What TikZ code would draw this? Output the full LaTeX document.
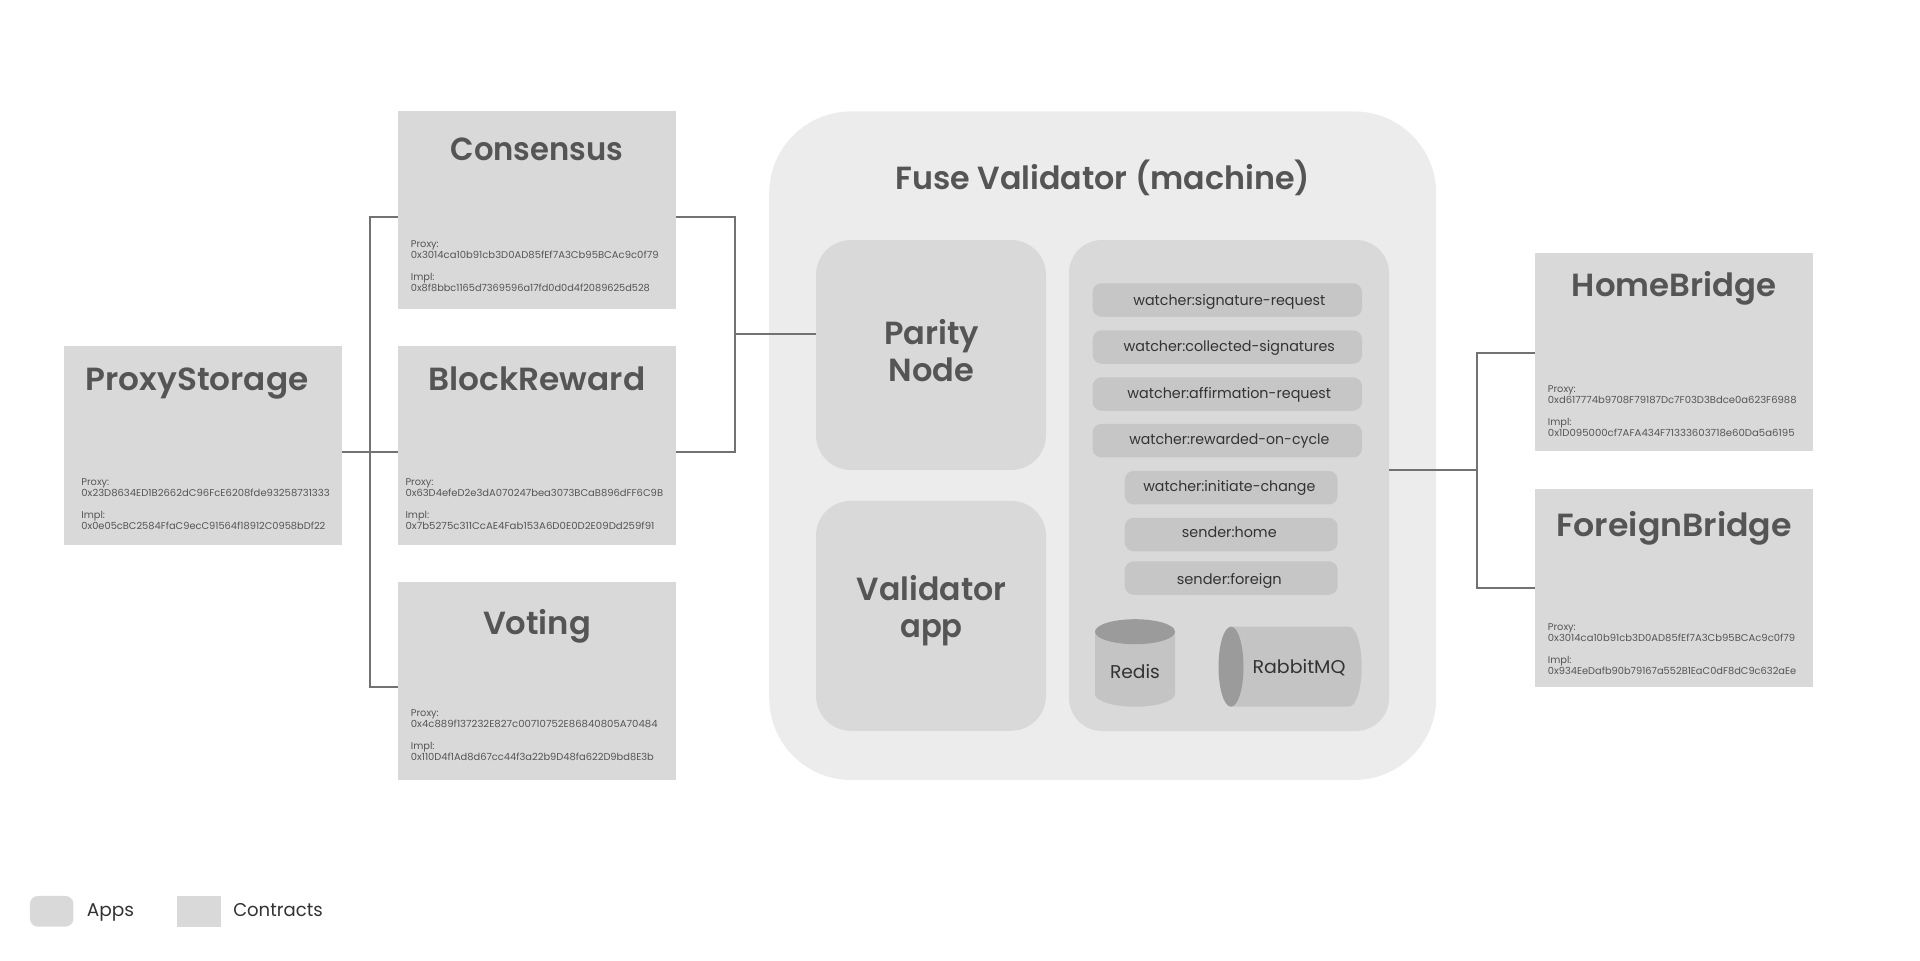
\documentclass[tikz,border=0pt]{standalone}
\usepackage{graphicx}
\usepackage{fontspec}
\setmainfont{Poppins}[BoldFont={Poppins SemiBold}]
\newcommand{\fitw}[2]{\resizebox{#1pt}{\height}{#2}}
\newcommand{\addrblock}[4]{Proxy:\\\fitw{#1}{#2}\\[11pt]Impl:\\\fitw{#3}{#4}}
\definecolor{machinefill}{HTML}{ECECEC}
\definecolor{boxfill}{HTML}{D9D9D9}
\definecolor{appfill}{HTML}{D9D9D9}
\definecolor{pillfill}{HTML}{C6C6C6}
\definecolor{cylbody}{HTML}{C4C4C4}
\definecolor{cylcap}{HTML}{9B9B9B}
\definecolor{titlegrey}{HTML}{555555}
\definecolor{textgrey}{HTML}{333333}
\definecolor{linegrey}{HTML}{727272}
\tikzset{
  x=1pt,y=-1pt,
  base/.style={inner sep=0pt,outer sep=0pt,draw=none},
  contract/.style={base,fill=boxfill,minimum width=278pt,minimum height=198.5pt},
  app/.style={base,fill=appfill,rounded corners=35pt},
  pillbox/.style={base,fill=pillfill,rounded corners=9pt,minimum height=33.5pt},
  widepill/.style={pillbox,minimum width=269.5pt},
  narrowpill/.style={pillbox,minimum width=213pt},
  ttl/.style={inner sep=0pt,anchor=base,text=titlegrey,font=\fontsize{32}{36}\selectfont\bfseries},
  addr/.style={inner sep=0pt,anchor=north west,align=left,text=titlegrey,font=\fontsize{9.8}{11}\selectfont},
  pilltext/.style={inner sep=0pt,anchor=base,text=textgrey,font=\fontsize{14.5}{16}\selectfont},
  label/.style={inner sep=0pt,anchor=base,text=textgrey,font=\fontsize{18.5}{22}\selectfont},
  conn/.style={draw=linegrey,line width=2pt},
}
\begin{document}
\begin{tikzpicture}
\useasboundingbox (0,0) rectangle (1920,961);
% machine
\node[base,fill=machinefill,rounded corners=82pt,minimum width=667pt,minimum height=668.6pt] (machine) at (1102.7,445.7) {};
\node[ttl] (machinetitle) at (1102.7,189) {\fitw{415}{Fuse Validator (machine)}};
\node[app,minimum width=230pt,minimum height=230pt] (parity) at (931,355) {};
\node[app,minimum width=230pt,minimum height=230pt] (validator) at (931,615.8) {};
\node[ttl] (paritytxt1) at (931.5,344.5) {\fitw{95}{Parity}};
\node[ttl] (paritytxt2) at (931.5,381.3) {\fitw{85.5}{Node}};
\node[ttl] (validatortxt1) at (931.5,600) {\fitw{149.4}{Validator}};
\node[ttl] (validatortxt2) at (931.5,637) {\fitw{62.5}{app}};
\node[base,fill=boxfill,rounded corners=33pt,minimum width=320pt,minimum height=491pt] (services) at (1229,485.5) {};
% pills
\node[widepill] (p1) at (1227.3,300) {};
\node[widepill] (p2) at (1227.3,347) {};
\node[widepill] (p3) at (1227.3,394) {};
\node[widepill] (p4) at (1227.3,440.7) {};
\node[narrowpill] (p5) at (1231.2,487.7) {};
\node[narrowpill] (p6) at (1231.2,534.5) {};
\node[narrowpill] (p7) at (1231.2,578) {};
\node[pilltext] (t1) at (1229.3,305) {\fitw{192}{watcher:signature-request}};
\node[pilltext] (t2) at (1229.3,351.7) {\fitw{211.3}{watcher:collected-signatures}};
\node[pilltext] (t3) at (1229.3,398.3) {\fitw{203.7}{watcher:affirmation-request}};
\node[pilltext] (t4) at (1229.3,444.3) {\fitw{200}{watcher:rewarded-on-cycle}};
\node[pilltext] (t5) at (1229.3,491) {\fitw{172}{watcher:initiate-change}};
\node[pilltext] (t6) at (1229.3,537.3) {\fitw{94.7}{sender:home}};
\node[pilltext] (t7) at (1229.3,584) {\fitw{105}{sender:foreign}};
% cylinders
\fill[cylbody] (1095,631.7) -- (1095,694) arc[start angle=180,end angle=360,x radius=40,y radius=-12.7] -- (1175,631.7) -- cycle;
\fill[cylcap] (1135,631.7) ellipse[x radius=40,y radius=12.5];
\node[label] (redis) at (1135,678.5) {\fitw{50}{Redis}};
\fill[cylbody] (1231,626.7) -- (1349,626.7) arc[start angle=90,end angle=-90,x radius=12.7,y radius=-40] -- (1231,706.7) -- cycle;
\fill[cylcap] (1231,666.7) ellipse[x radius=12.5,y radius=40];
\node[label] (rabbit) at (1299,673.5) {\fitw{93}{RabbitMQ}};
% contracts
\node[contract] (proxy) at (203,445.7) {};
\node[contract] (consensus) at (536.7,210.2) {};
\node[contract] (block) at (536.7,445.7) {};
\node[contract] (voting) at (536.7,681.2) {};
\node[contract] (home) at (1673.5,352.2) {};
\node[contract] (foreign) at (1673.5,588.2) {};
\node[ttl] (proxyt) at (197,390) {\fitw{223}{ProxyStorage}};
\node[ttl] (consensust) at (537,160) {\fitw{172.7}{Consensus}};
\node[ttl] (blockt) at (537,390) {\fitw{216.7}{BlockReward}};
\node[ttl] (votingt) at (537,634) {\fitw{108}{Voting}};
\node[ttl] (homet) at (1674,296.7) {\fitw{204.3}{HomeBridge}};
\node[ttl] (foreignt) at (1674,536.7) {\fitw{235.7}{ForeignBridge}};
\node[addr] (proxya) at (81.2,478) {\addrblock{248.3}{0x23D8634ED1B2662dC96FcE6208fde93258731333}{244}{0x0e05cBC2584FfaC9ecC91564f18912C0958bDf22}};
\node[addr] (consensusa) at (410.7,240) {\addrblock{247.7}{0x3014ca10b91cb3D0AD85fEf7A3Cb95BCAc9c0f79}{239}{0x8f8bbc1165d7369596a17fd0d0d4f2089625d528}};
\node[addr] (blocka) at (405.3,478) {\addrblock{257.6}{0x63D4efeD2e3dA070247bea3073BCaB896dFF6C9B}{249}{0x7b5275c311CcAE4Fab153A6D0E0D2E09Dd259f91}};
\node[addr] (votinga) at (410.7,709) {\addrblock{246.7}{0x4c889f137232E827c00710752E86840805A70484}{243}{0x110D4f1Ad8d67cc44f3a22b9D48fa622D9bd8E3b}};
\node[addr] (homea) at (1547.7,385) {\addrblock{248.7}{0xd617774b9708F79187Dc7F03D3Bdce0a623F6988}{246.7}{0x1D095000cf7AFA434F71333603718e60Da5a6195}};
\node[addr] (foreigna) at (1547.7,623.7) {\addrblock{247.3}{0x3014ca10b91cb3D0AD85fEf7A3Cb95BCAc9c0f79}{248.3}{0x934EeDafb90b79167a552B1EaC0dF8dC9c632aEe}};
% connectors
\coordinate (busL) at (370,451.5);
\coordinate (busM) at (734.7,333.7);
\coordinate (busR) at (1476.7,470);
\coordinate (topY) at (370,216.7);
\coordinate (lowY) at (370,687);
\coordinate (homeY) at (1476.7,352.7);
\coordinate (foreignY) at (1476.7,587.8);
\draw[conn] (proxy.east |- busL) -- (block.west |- busL);
\draw[conn] (consensus.west |- topY) -| (lowY) -- (voting.west |- lowY);
\draw[conn] (consensus.east |- topY) -| (busM |- busL) -- (block.east |- busL);
\draw[conn] (busM) -- (parity.west |- busM);
\draw[conn] (services.east |- busR) -- (busR);
\draw[conn] (home.west |- homeY) -| (foreignY) -- (foreign.west |- foreignY);
% legend
\node[base,fill=boxfill,rounded corners=8pt,minimum width=43.5pt,minimum height=30.7pt] (legapp) at (51.7,911.3) {};
\node[base,fill=boxfill,minimum width=43.5pt,minimum height=30.7pt] (legcontract) at (198.8,911.3) {};
\node[label] (legapptxt) at (110.5,916.7) {\fitw{47.3}{Apps}};
\node[label] (legconttxt) at (278,916.7) {\fitw{89.5}{Contracts}};
\end{tikzpicture}
\end{document}
